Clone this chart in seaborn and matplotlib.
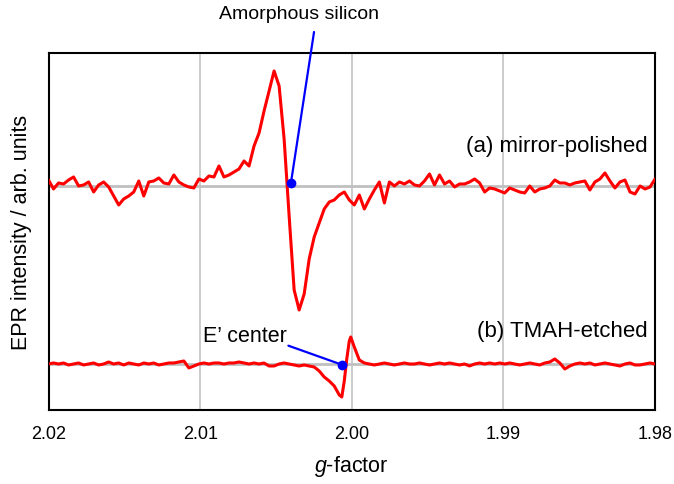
import numpy as np
import pandas as pd
import matplotlib
matplotlib.use("Agg")
import matplotlib.pyplot as plt
import seaborn as sns

# g-factor sample positions (spectrometer sweep, evenly spaced)
g_grid = np.linspace(2.02, 1.98, 122)

# (a) mirror-polished (arb. units, baseline = 0)
mirror_polished = [6, -3, 3, 2, 6, 9, 0, 1, 4, -6,
                   1, 4, -1, -10, -19, -13, -10, -6, 5, -10,
                   4, 5, 8, 3, 2, 11, 4, 1, -1, -2,
                   7, 5, 10, 9, 20, 9, 11, 14, 17, 25,
                   20, 40, 53, 75, 95, 115, 100, 47, -30, -104,
                   -124, -108, -73, -51, -37, -23, -16, -14, -9, -6,
                   -14, -19, -9, -23, -13, -4, 4, -17, 4, 0,
                   4, 2, 5, 1, 0, 5, 12, 1, 11, 2,
                   5, -1, 2, 2, 4, 7, 3, -6, -2, -3,
                   -5, -7, -2, -4, -6, -7, 0, -6, -3, -2,
                   0, 6, 3, 3, 1, 3, 4, 5, -4, 4,
                   7, 13, 5, -2, 4, 6, -6, -8, 0, -3,
                   -1, 7]

# (b) TMAH-etched
tmah_etched = [0, 1, 0, 1, -1, 0, 1, -1, 0, 1,
               -1, 0, 2, 0, 1, -1, 1, 0, -1, 1,
               0, 1, -1, 0, 1, 1, 2, 3, -4, -2,
               0, 1, 0, 1, 1, 0, 1, 1, 2, 1,
               0, 1, 0, 1, -2, -2, 0, 1, 0, -1,
               -2, -1, -2, -3, -7, -13, -17, -22, -31, -17,
               23, 17, 4, 1, 0, -1, 0, 1, 0, -1,
               0, 1, 0, 0, 1, 0, -1, 0, 1, 0,
               1, 0, -1, 0, -2, 0, 1, 0, 1, 0,
               1, 0, 1, 0, -1, 0, 1, 0, -1, 1,
               2, 5, 1, -5, -2, 0, 1, 0, 1, -1,
               0, 1, 0, -1, -2, 0, 1, -1, -1, 0,
               1, 0]
# extra readings across the sharp E' line
tmah_extra_g = [2.00066, 2.00034, 2.00007]
tmah_extra = [-33, 4, 27]

offset_a = 224
offset_b = 46

tick_vals = [2.02, 2.01, 2.00, 1.99, 1.98]
tick_labels = ["2.02", "2.01", "2.00", "1.99", "1.98"]

sns.set_style("white")
plt.rcParams['font.family'] = ['Liberation Sans', 'DejaVu Sans']
plt.rcParams['mathtext.fontset'] = 'custom'
plt.rcParams['mathtext.it'] = 'Liberation Sans:italic'
plt.rcParams['mathtext.rm'] = 'Liberation Sans'
plt.rcParams['text.color'] = 'black'
plt.rcParams['axes.labelcolor'] = 'black'
plt.rcParams['xtick.color'] = 'black'

df_a = pd.DataFrame({'g': g_grid, 'signal': offset_a + np.array(mirror_polished), 'sample': 'a'})
df_b = pd.DataFrame({'g': np.concatenate([g_grid, tmah_extra_g]),
                     'signal': offset_b + np.concatenate([tmah_etched, tmah_extra]),
                     'sample': 'b'})
df = pd.concat([df_a, df_b], ignore_index=True)

fig = plt.figure(figsize=(6.74, 4.85), dpi=100)
ax = fig.add_axes([0.072, 0.1526, 0.8999, 0.7361])

ax.axhline(offset_a, color='#c0c0c0', lw=2, zorder=1)
ax.axhline(offset_b, color='#c0c0c0', lw=2, zorder=1)

sns.lineplot(data=df, x='g', y='signal', hue='sample', palette=['#ff0000', '#ff0000'],
             linewidth=2.2, legend=False, estimator=None, sort=True, ax=ax, zorder=3)

ax.set_xlim(2.02, 1.98)
ax.set_ylim(0, 357)
ax.set_xticks(tick_vals)
ax.set_xticklabels(tick_labels)
ax.set_yticks([])
ax.xaxis.grid(True, color='#c8c8c8', lw=1.3, zorder=0)
ax.set_axisbelow(True)
ax.tick_params(axis='x', length=0, pad=11, labelsize=13, colors='black')
for s in ax.spines.values():
    s.set_color('black')
    s.set_linewidth(1.5)

ax.set_xlabel('$g$-factor', fontsize=15.5, labelpad=8)
ax.set_ylabel('EPR intensity / arb. units', fontsize=15.5, labelpad=12)

# annotations
ax.text(1.98052, 264, '(a) mirror-polished', ha='right', va='center', fontsize=16)
ax.text(1.98052, 79, '(b) TMAH-etched', ha='right', va='center', fontsize=16)

amor_dot = (2.00402, 226.5)
amor_end = (2.00249, 378)
ax.plot([amor_end[0], amor_dot[0]], [amor_end[1], amor_dot[1]], color='#0000ff', lw=1.6,
        clip_on=False, zorder=4)
ax.plot([amor_dot[0]], [amor_dot[1]], 'o', color='#0000ff', ms=6, zorder=5)
ax.text(2.00348, 396, 'Amorphous silicon', ha='center', va='center', fontsize=14)

ep_dot = (2.000659, 45.3)
ep_end = (2.00418, 64.3)
ax.plot([ep_end[0], ep_dot[0]], [ep_end[1], ep_dot[1]], color='#0000ff', lw=1.6, zorder=4)
ax.plot([ep_dot[0]], [ep_dot[1]], 'o', color='#0000ff', ms=6, zorder=5)
ax.text(2.00704, 74, 'E\u2019 center', ha='center', va='center', fontsize=15.5)

fig.savefig('out.png', dpi=100)
